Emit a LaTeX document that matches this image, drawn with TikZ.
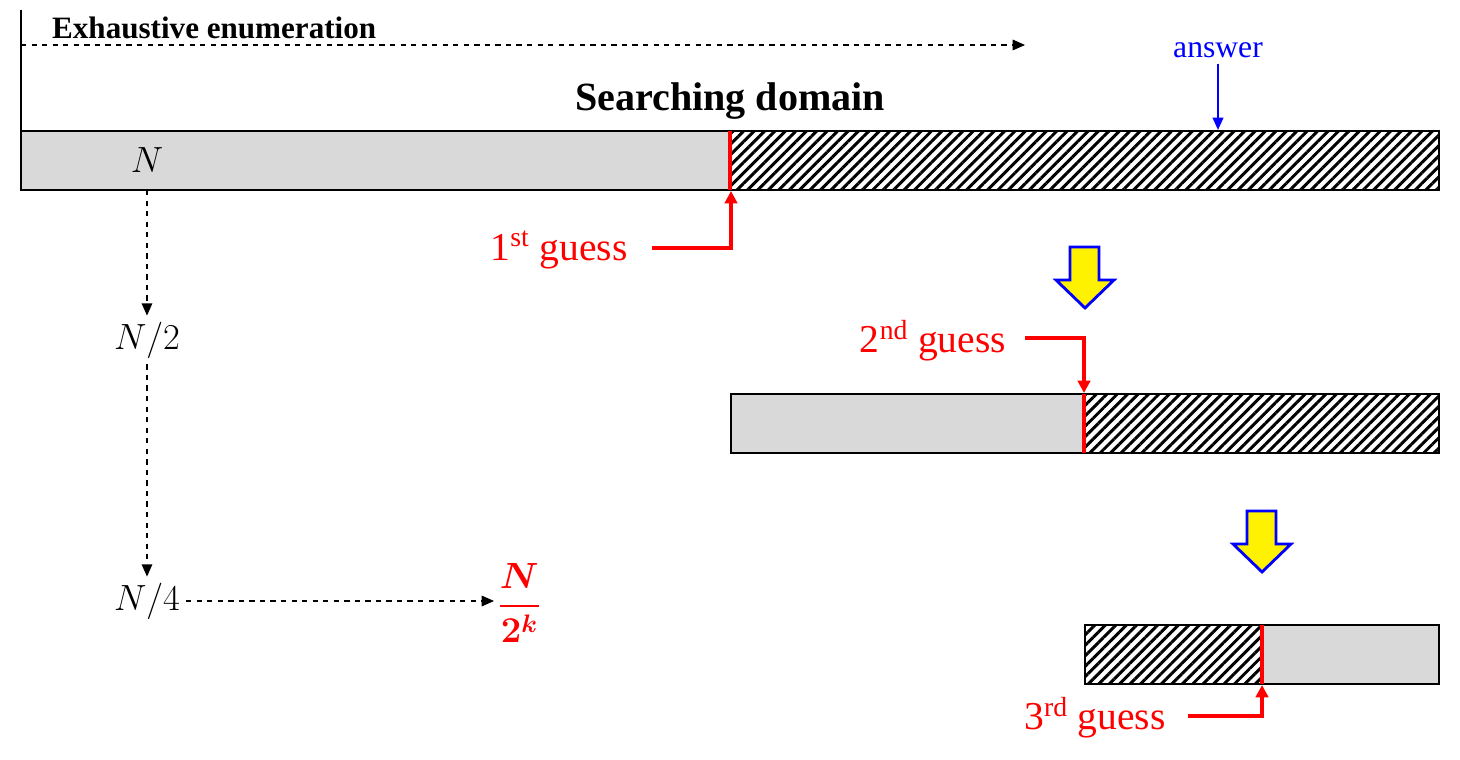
\documentclass[tikz,border=0pt]{standalone}
\usepackage{amsmath}
\usepackage{fontspec}
\setmainfont{Liberation Serif}
\usepackage{tikz}
\usetikzlibrary{arrows.meta, patterns.meta, positioning}

\definecolor{barGray}{RGB}{217,217,217}
\tikzset{
  bar/.style={draw=black, line width=1.2pt},
  hatch/.style={pattern={Lines[angle=45,distance=4.2pt,line width=1.7pt]}},
  cut/.style={red, line width=2pt},
  guessArrow/.style={red, line width=1.9pt, -{Triangle[length=7pt,width=7pt]}},
  halfArrow/.style={black, dashed, line width=0.8pt, -{Triangle[length=7pt,width=6pt]}},
  guessText/.style={text=red, font=\fontsize{22.5}{26}\selectfont},
  countText/.style={font=\fontsize{21}{25}\selectfont},
  bigArrow/.style={fill=yellow, draw=blue, line width=1.6pt, line join=miter}
}

\begin{document}
\begin{tikzpicture}[x=0.02cm, y=-0.02cm]
\useasboundingbox (0,0) rectangle (1460,760);

% enumeration line
\coordinate (start) at (21,10);
\coordinate (enumFrom) at (21,45);
\coordinate (enumTo) at (1025,45);
\draw[line width=0.8pt] (start) -- (21,131);
\draw[halfArrow] (enumFrom) -- (enumTo);
\node[anchor=west, font=\fontsize{17.7}{21}\selectfont\bfseries] (enum) at (46,28) {Exhaustive enumeration};
\node[font=\fontsize{22.8}{27}\selectfont\bfseries] (domain) at (730,101) {Searching domain};

% answer
\node[text=blue, font=\fontsize{18}{21}\selectfont] (answer) at (1218,50) {answer};
\coordinate (answerTip) at (1218,130);
\draw[blue, line width=1.2pt, -{Triangle[length=7pt,width=6pt]}] (answer) -- (answerTip);

% first bar
\fill[barGray] (21,131) rectangle (730,190);
\fill[hatch] (730,131) rectangle (1439,190);
\draw[bar] (21,131) rectangle (1439,190);
\draw[cut] (730,131) -- (730,190);
\node[countText] (n) at (147,160) {$N$};

% second bar
\fill[barGray] (731,394) rectangle (1084,453);
\fill[hatch] (1084,394) rectangle (1439,453);
\draw[bar] (731,394) rectangle (1439,453);
\draw[cut] (1084,394) -- (1084,453);

% third bar
\fill[hatch] (1085,625) rectangle (1262,684);
\fill[barGray] (1262,625) rectangle (1439,684);
\draw[bar] (1085,625) rectangle (1439,684);
\draw[cut] (1262,625) -- (1262,684);

% guesses
\node[guessText] (g1) at (559,250) {1\textsuperscript{st} guess};
\coordinate (g1Tip) at (731,191);
\draw[guessArrow] (652,248) -| (g1Tip);

\node[guessText] (g2) at (933,341) {2\textsuperscript{nd} guess};
\coordinate (g2Tip) at (1084,393);
\draw[guessArrow] (1025,338) -| (g2Tip);

\node[guessText] (g3) at (1095,718) {3\textsuperscript{rd} guess};
\coordinate (g3Tip) at (1262,685);
\draw[guessArrow] (1188,716) -| (g3Tip);

% yellow arrows
\draw[bigArrow] (1070,247) -- (1099,247) -- (1099,280) -- (1114,280) -- (1085,308)
  -- (1056,280) -- (1070,280) -- cycle;
\draw[bigArrow] (1247,511) -- (1276,511) -- (1276,544) -- (1291,544) -- (1262,572)
  -- (1233,544) -- (1247,544) -- cycle;

% halving
\node[countText] (half) at (147,340) {$N/2$};
\node[countText] (quarter) at (147,601) {$N/4$};
\node[text=red, font=\fontsize{21}{25}\selectfont, anchor=west, inner sep=2pt] (last) at (494,603) {$\boldsymbol{\dfrac{N}{2^k}}$};
\draw[halfArrow] (n.south |- 0,190) -- (half.north);
\draw[halfArrow] (half.south) -- (quarter.north);
\draw[halfArrow] (quarter.east) -- (quarter.east -| last.west);
\end{tikzpicture}
\end{document}
